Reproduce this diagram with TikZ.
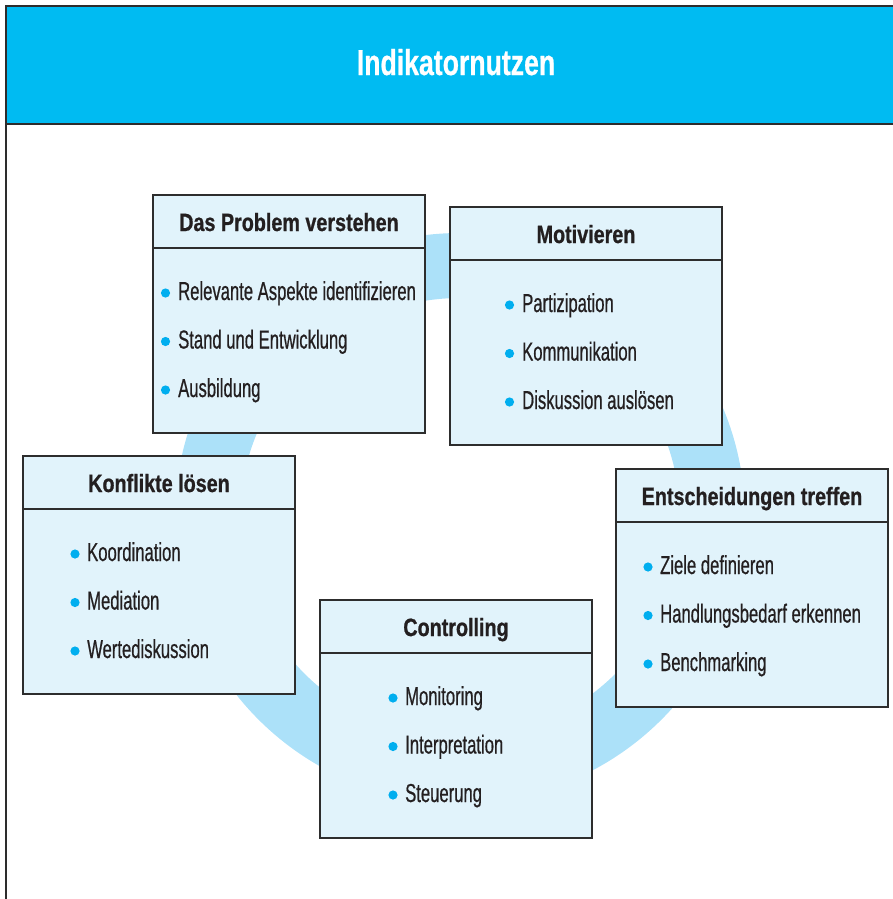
\documentclass[tikz,border=0pt]{standalone}
\usepackage{fontspec}
\setmainfont{Liberation Sans}
\newfontfamily\itemfont[FakeStretch=0.64,FakeBold=0.6]{Liberation Sans}
\newfontfamily\titlefont[FakeStretch=0.79,FakeBold=0.8]{Liberation Sans}
\newfontfamily\headfont[FakeStretch=0.74,FakeBold=0.6]{Liberation Sans}
\usepackage{xcolor}
\usetikzlibrary{positioning}
\definecolor{headblue}{RGB}{0,187,242}
\definecolor{ringblue}{RGB}{172,225,249}
\definecolor{boxblue}{RGB}{225,243,251}
\definecolor{dotblue}{RGB}{0,174,239}
\definecolor{inkgray}{RGB}{35,31,32}
\definecolor{framegray}{RGB}{45,45,45}

\begin{document}
\begin{tikzpicture}[x=1pt,y=-1pt,
    boxhead/.style={draw=framegray,line width=1.3pt,fill=boxblue,outer sep=0pt,inner sep=0pt,
        minimum width=272pt,minimum height=53pt,anchor=north west,text=inkgray,
        text height=19pt,text depth=0pt,font=\titlefont\bfseries\fontsize{25}{28}\selectfont},
    boxbody/.style={draw=framegray,line width=1.3pt,fill=boxblue,outer sep=0pt,inner sep=0pt,
        minimum width=272pt,minimum height=185pt,below=0pt of #1},
    itemtext/.style={anchor=base west,inner sep=0pt,text=inkgray,font=\itemfont\fontsize{26}{28}\selectfont},
    bulletdot/.style={fill=dotblue}]
    \useasboundingbox (0,0) rectangle (893,899);

    % draw header and frame
    \fill[headblue] (6,6) rectangle (893,124);
    \draw[framegray,line width=1.3pt] (6,899) -- (6,6) -- (893,6);
    \draw[framegray,line width=1.3pt] (6,124) -- (893,124);
    \node[anchor=base,inner sep=0pt,text=white,font=\headfont\bfseries\fontsize{36}{40}\selectfont] (title) at (456,75) {Indikatornutzen};

    % draw ring
    \fill[ringblue,even odd rule] (460,518) circle[radius=285pt] circle[radius=220pt];

    % draw boxes
    \node[boxhead] (problem-head) at (153,195) {Das Problem verstehen};
    \node[boxbody=problem-head] (problem-body) {};
    \node[boxhead] (motiv-head) at (450,207) {Motivieren};
    \node[boxbody=motiv-head] (motiv-body) {};
    \node[boxhead] (konflikt-head) at (23,456) {Konflikte lösen};
    \node[boxbody=konflikt-head] (konflikt-body) {};
    \node[boxhead] (entscheid-head) at (616,469) {Entscheidungen treffen};
    \node[boxbody=entscheid-head] (entscheid-body) {};
    \node[boxhead] (control-head) at (320,600) {Controlling};
    \node[boxbody=control-head] (control-body) {};

    % draw items
    \foreach \txt [count=\i] in {Relevante Aspekte identifizieren, Stand und Entwicklung, Ausbildung} {
        \node[itemtext] (problem-\i) at (178,{300+48.5*(\i-1)}) {\txt};
        \fill[bulletdot] ([xshift=-12.5pt,yshift=7pt]problem-\i.base west) circle[radius=4.6pt];
    }
    \foreach \txt [count=\i] in {Partizipation, Kommunikation, Diskussion auslösen} {
        \node[itemtext] (motiv-\i) at (522,{312+48.5*(\i-1)}) {\txt};
        \fill[bulletdot] ([xshift=-12.5pt,yshift=7pt]motiv-\i.base west) circle[radius=4.6pt];
    }
    \foreach \txt [count=\i] in {Koordination, Mediation, Wertediskussion} {
        \node[itemtext] (konflikt-\i) at (87,{561+48.5*(\i-1)}) {\txt};
        \fill[bulletdot] ([xshift=-12pt,yshift=7pt]konflikt-\i.base west) circle[radius=4.6pt];
    }
    \foreach \txt [count=\i] in {Ziele definieren, Handlungsbedarf erkennen, Benchmarking} {
        \node[itemtext] (entscheid-\i) at (660,{574+48.5*(\i-1)}) {\txt};
        \fill[bulletdot] ([xshift=-12pt,yshift=7pt]entscheid-\i.base west) circle[radius=4.6pt];
    }
    \foreach \txt [count=\i] in {Monitoring, Interpretation, Steuerung} {
        \node[itemtext] (control-\i) at (405,{705+48.5*(\i-1)}) {\txt};
        \fill[bulletdot] ([xshift=-12pt,yshift=7pt]control-\i.base west) circle[radius=4.6pt];
    }
\end{tikzpicture}
\end{document}
